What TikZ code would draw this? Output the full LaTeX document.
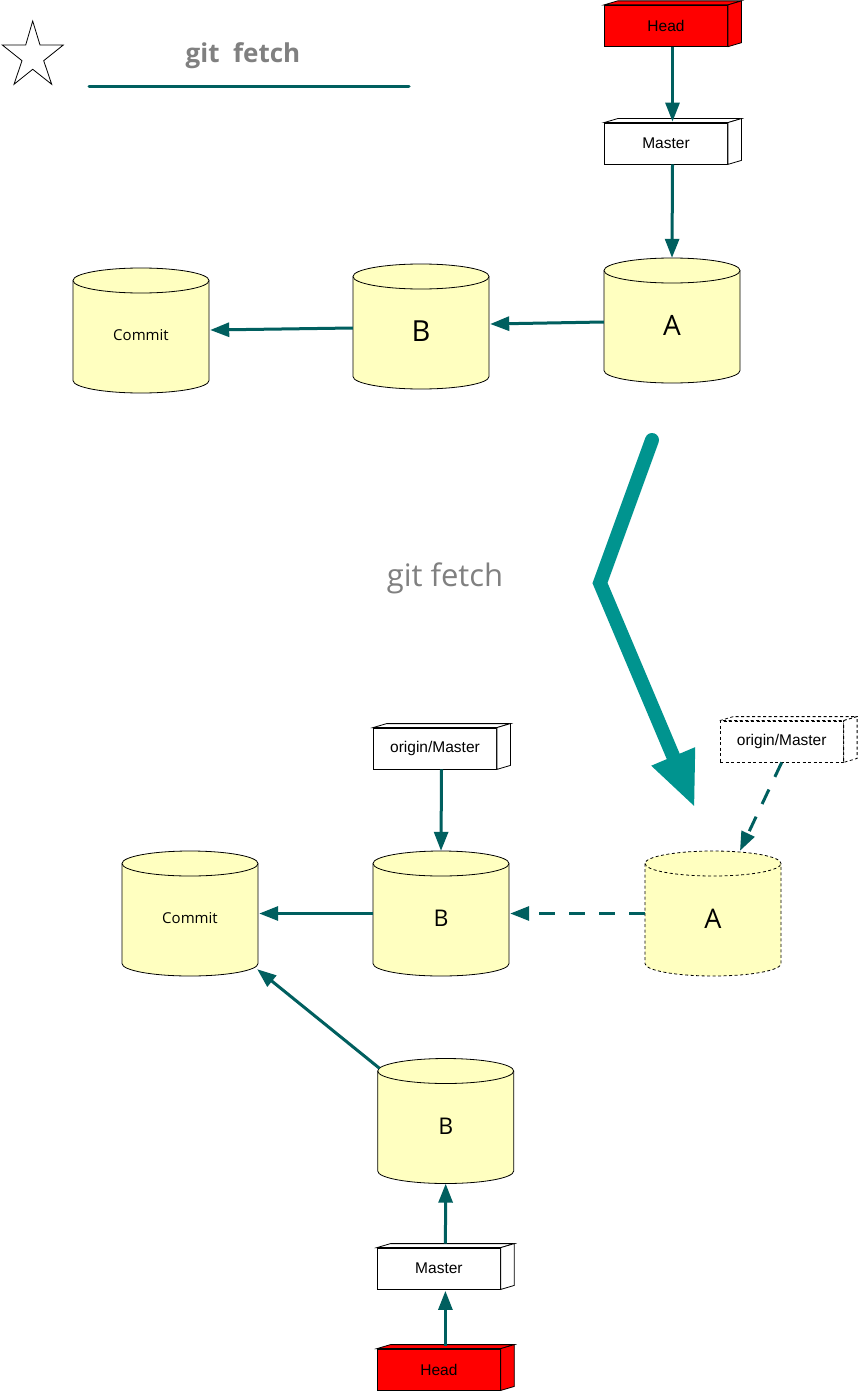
\documentclass[tikz,border=0pt]{standalone}
\usepackage{fontspec}
\setmainfont{Open Sans}
\newfontfamily\helv{Liberation Sans}
\usetikzlibrary{arrows.meta,calc}
\definecolor{tealA}{HTML}{005F5F}
\definecolor{tealBig}{HTML}{00948F}
\definecolor{cylFill}{HTML}{FFFFC0}
\definecolor{headRed}{HTML}{FF0000}
\definecolor{titleGray}{HTML}{808080}
\tikzset{
  conn/.style={draw=tealA, line width=3pt, -{Triangle[length=19pt,width=14pt]}},
  dconn/.style={conn, dash pattern=on 16pt off 14pt},
  cylline/.style={draw=black, line width=0.8pt, fill=cylFill},
  cylanchor/.style={minimum width=136pt, minimum height=125pt, inner sep=0pt},
  boxfront/.style={draw, line width=0.8pt, fill=white, minimum width=123pt, minimum height=41pt, inner sep=0pt, font=\helv\fontsize{15.5}{18}\selectfont},
  boxface/.style={draw, line width=0.8pt, fill=white},
  shortdash/.style={dash pattern=on 3pt off 2.5pt},
}
% #1 name, #2 cx, #3 cy, #4 extra style, #5 text
\newcommand\threedbox[5]{%
  \node[boxfront,#4] (#1) at (#2,#3) {#5};
  \draw[boxface,#4] (#1.north west) -- ++(13.5,-4) -- ($(#1.north east)+(13.5,-4)$) -- (#1.north east) -- cycle;
  \draw[boxface,#4] (#1.north east) -- ++(13.5,-4) -- ($(#1.south east)+(13.5,-4)$) -- (#1.south east) -- cycle;
}
% #1 name, #2 cx, #3 cy, #4 extra style, #5 font size, #6 text
\newcommand\cylinderdb[6]{%
  \draw[cylline,#4] ({#2-68},{#3-50}) -- ({#2-68},{#3+50})
     arc[start angle=180,end angle=360,x radius=68pt,y radius=12.5pt]
     -- ({#2+68},{#3-50})
     arc[start angle=0,end angle=180,x radius=68pt,y radius=12.5pt] -- cycle;
  \draw[cylline,fill=none,#4] ({#2-68},{#3-50})
     arc[start angle=180,end angle=360,x radius=68pt,y radius=12.5pt];
  \node[cylanchor] (#1) at (#2,#3) {};
  \node[font=\fontsize{#5}{#5}\selectfont, inner sep=0pt] (#1t) at (#2,{#3+5}) {#6};
}
\begin{document}
\begin{tikzpicture}[x=1pt,y=-1pt]
\fill[white] (0,0) rectangle (857,1391);
\useasboundingbox (0,0) rectangle (857,1391);

% star
\draw[line width=0.8pt] (32.7,21) -- (40,45) -- (63.3,45) -- (43.7,60.7) -- (51.7,84.3)
  -- (32.7,69.3) -- (14,84.3) -- (22,60.7) -- (2.3,45) -- (25.7,45) -- cycle;

% title
\node[font=\bfseries\fontsize{26}{30}\selectfont, text=titleGray, anchor=base, inner sep=0pt] (title) at (243,62.3) {git\ \ fetch};
\draw[draw=tealA, line width=3pt, line cap=round] (89,87) -- (409,87);

% top part
\threedbox{h1}{666}{25.8}{fill=headRed}{Head}
\threedbox{m1}{666}{143.5}{}{Master}
\cylinderdb{A1}{672}{320.5}{}{28}{A}
\cylinderdb{B1}{421}{326.5}{}{29}{B}
\cylinderdb{C1}{141}{330.5}{}{15}{Commit}

\draw[conn] ($(h1.south)+(6.5,0)$) -- ($(m1.north)+(6.5,-1)$);
\draw[conn] ($(m1.south)+(6.5,0)$) -- (A1.north);
\draw[conn] ($(A1.west)+(0,1.5)$) -- ($(B1.east)+(1,-2.5)$);
\draw[conn] ($(B1.west)+(0,1.5)$) -- ($(C1.east)+(1,-0.5)$);

% big arrow
\coordinate (fa1) at (652,440);
\coordinate (fa2) at (600,583);
\coordinate (fa3) at (695,808);
\draw[draw=tealBig, line width=14pt, line cap=round, -{Triangle[length=56pt,width=43pt]}] (fa1) -- (fa2) -- (fa3);
\node[font=\fontsize{31}{36}\selectfont, text=titleGray, anchor=base, inner sep=0pt] (gf) at (445,586) {git fetch};

% bottom part
\threedbox{om1}{435}{748.5}{}{origin/Master}
\threedbox{om2}{781.7}{741.5}{shortdash}{origin/Master}
\cylinderdb{C2}{190}{913.5}{}{15}{Commit}
\cylinderdb{B2}{441}{913.5}{}{23}{B}
\cylinderdb{A2}{713}{913.5}{shortdash}{27}{A}
\cylinderdb{B3}{445.7}{1121}{}{23}{B}
\threedbox{m2}{438.9}{1268.5}{}{Master}
\threedbox{h2}{438.9}{1369.5}{fill=headRed}{Head}

\draw[conn] ($(om1.south)+(6.5,0)$) -- (B2.north);
\draw[dconn] (om2.south) -- ($(A2.north)+(27,0)$);
\draw[dconn] (A2.west) -- ($(B2.east)+(1,0)$);
\draw[conn] (B2.west) -- ($(C2.east)+(1,0)$);
\draw[conn] ($(B3.north west)+(2,10)$) -- ($(C2.south east)+(-1,-7)$);
\draw[conn] ($(m2.north)+(6.5,-4)$) -- (B3.south);
\draw[conn] ($(h2.north)+(6.5,-3)$) -- ($(m2.south)+(6.5,1.5)$);
\end{tikzpicture}
\end{document}
